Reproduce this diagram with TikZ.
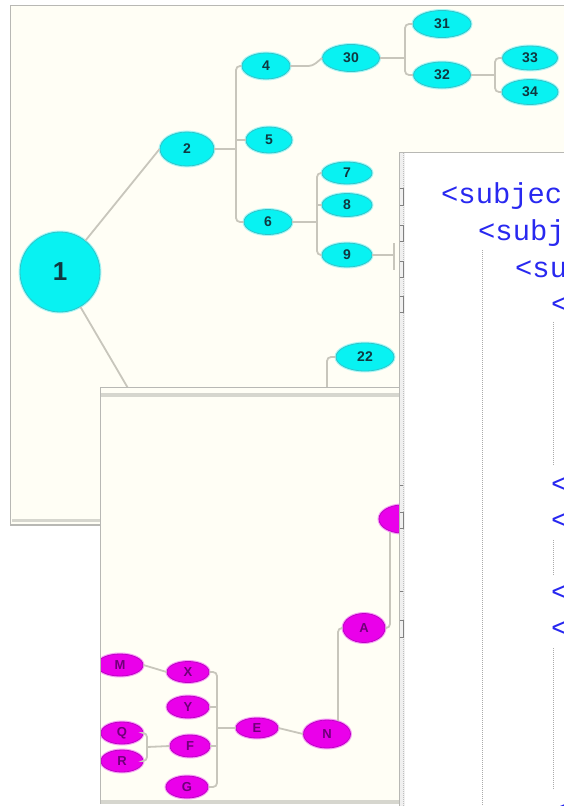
\documentclass[tikz,border=0pt]{standalone}
\usepackage{fontspec}
\setmainfont{Liberation Sans}
\newfontfamily\codefont{Liberation Mono}
\usetikzlibrary{shapes.geometric}

\definecolor{paper}{RGB}{255,254,245}
\definecolor{wingray}{RGB}{184,184,180}
\definecolor{bandgray}{RGB}{214,214,206}
\definecolor{edgegray}{RGB}{200,198,188}
\definecolor{cyanfill}{RGB}{8,242,242}
\definecolor{cyanedge}{RGB}{48,196,200}
\definecolor{cyanhalo}{RGB}{170,246,246}
\definecolor{cyantext}{RGB}{16,56,64}
\definecolor{magfill}{RGB}{234,0,234}
\definecolor{magedge}{RGB}{190,0,196}
\definecolor{maghalo}{RGB}{246,160,246}
\definecolor{magtext}{RGB}{110,0,120}
\definecolor{xmlblue}{RGB}{40,40,240}
\definecolor{guidegray}{RGB}{170,170,170}

\tikzset{
  edge/.style={draw=edgegray, line width=1.8pt, rounded corners=4pt},
  cnode/.style={ellipse, fill=cyanfill, draw=cyanedge, line width=0.8pt, inner sep=0pt,
    text=cyantext, font=\fontsize{14}{14}\selectfont\bfseries,
    preaction={draw=cyanhalo, line width=3pt}},
  mnode/.style={ellipse, fill=magfill, draw=magedge, line width=0.8pt, inner sep=0pt,
    text=magtext, font=\fontsize{13}{13}\selectfont\bfseries,
    preaction={draw=maghalo, line width=3pt}},
  win/.style={fill=paper, draw=wingray, line width=1.2pt},
  guide/.style={draw=guidegray, line width=0.8pt, dash pattern=on 1pt off 1pt},
  xmltext/.style={anchor=base west, inner sep=0pt, text=xmlblue,
    font=\codefont\fontsize{28.8}{28.8}\selectfont},
  bracket/.style={draw=gray, line width=0.9pt},
}

\begin{document}
\begin{tikzpicture}[x=1pt,y=-1pt]
\useasboundingbox (0,0) rectangle (564,806);
\fill[white] (0,0) rectangle (564,806);
\clip (0,0) rectangle (564,806);

% ---------- first window: cyan tree ----------
\path[win] (10.5,5.5) rectangle (620,525);
\draw[bandgray, line width=3pt] (12,520) -- (620,520);

\node[cnode, circle, minimum size=80pt, font=\fontsize{26}{26}\selectfont\bfseries] (n1) at (60,272) {1};
\node[cnode, minimum width=54pt, minimum height=34pt] (n2) at (187,149) {2};
\node[cnode, minimum width=48pt, minimum height=26pt] (n4) at (266,66) {4};
\node[cnode, minimum width=46pt, minimum height=26pt] (n5) at (269,140) {5};
\node[cnode, minimum width=48pt, minimum height=25pt] (n6) at (268,222) {6};
\node[cnode, minimum width=57pt, minimum height=27pt] (n30) at (351,58) {30};
\node[cnode, minimum width=58pt, minimum height=27pt] (n31) at (442,24) {31};
\node[cnode, minimum width=57pt, minimum height=26pt] (n32) at (442,75) {32};
\node[cnode, minimum width=55pt, minimum height=24pt] (n33) at (530,58) {33};
\node[cnode, minimum width=56pt, minimum height=25pt] (n34) at (530,92) {34};
\node[cnode, minimum width=50pt, minimum height=22pt] (n7) at (347,173) {7};
\node[cnode, minimum width=50pt, minimum height=23pt] (n8) at (347,205) {8};
\node[cnode, minimum width=50pt, minimum height=24pt] (n9) at (347,255) {9};
\node[cnode, minimum width=58pt, minimum height=28pt] (n22) at (365,357) {22};

\coordinate (j2) at (236,149);
\coordinate (j30) at (405,58);
\coordinate (j32) at (495,75);
\coordinate (j6) at (317,222);
\coordinate (j9) at (394,255);
\coordinate (j9top) at (394,243);
\coordinate (j9bot) at (394,270);
\coordinate (c1low) at (132,395);
\coordinate (c22low) at (327,395);

\draw[edge] (n1) -- (n2.west);
\draw[edge] (n1) -- (c1low);
\draw[edge] (n2.east) -- (j2);
\draw[edge] (n4.west) -| (j2) |- (n6.west);
\draw[edge] (n5.west) -- (n5.west -| j2);
\draw[edge] (n4.east) -- ++(22,0) -- (n30.west);
\draw[edge] (n30.east) -- (j30);
\draw[edge] (n31.west) -| (j30) |- (n32.west);
\draw[edge] (n32.east) -- (j32);
\draw[edge] (n33.west) -| (j32) |- (n34.west);
\draw[edge] (n6.east) -- (j6);
\draw[edge] (n7.west) -| (j6) |- (n9.west);
\draw[edge] (n8.west) -- (n8.west -| j6);
\draw[edge] (n9.east) -- (j9);
\draw[edge] (j9top) -- (j9bot);
\draw[edge] (n22.west) -| (c22low);

% ---------- second window: magenta tree ----------
\path[win] (100.5,387.5) rectangle (430,803);
\draw[bandgray, line width=3.5pt] (101,395) -- (430,395);
\draw[bandgray, line width=4pt] (101,802) -- (430,802);

\begin{scope}
\clip (101,397) rectangle (430,800);
\node[mnode, minimum width=46pt, minimum height=22pt] (mM) at (120,665) {M};
\node[mnode, minimum width=42pt, minimum height=21pt] (mX) at (188,672) {X};
\node[mnode, minimum width=42pt, minimum height=22pt] (mY) at (188,707) {Y};
\node[mnode, minimum width=40pt, minimum height=22pt] (mF) at (190,746) {F};
\node[mnode, minimum width=42pt, minimum height=22pt] (mG) at (187,787) {G};
\node[mnode, minimum width=42pt, minimum height=22pt] (mQ) at (122,733) {Q};
\node[mnode, minimum width=42pt, minimum height=22pt] (mR) at (122,761) {R};
\node[mnode, minimum width=42pt, minimum height=20pt] (mE) at (257,728) {E};
\node[mnode, minimum width=47pt, minimum height=28pt] (mN) at (327,734) {N};
\node[mnode, minimum width=42pt, minimum height=29pt] (mA) at (364,628) {A};
\node[mnode, minimum width=46pt, minimum height=28pt] (mT) at (402,519) {};

\coordinate (jX) at (217,728);
\coordinate (jF) at (147,747);
\coordinate (jN) at (338,721);
\coordinate (jA) at (390,532);

\draw[edge] (mM.east) -- (mX.west);
\draw[edge] (mE.west) -- (jX);
\draw[edge] (mX.east) -| (jX) |- (mG.east);
\draw[edge] (mY.east) -- (mY.east -| jX);
\draw[edge] (mF.east) -- (mF.east -| jX);
\draw[edge] (mF.west) -- (jF);
\draw[edge] (mQ.east) -| (jF) |- (mR.east);
\draw[edge] (mE.east) -- (mN.west);
\draw[edge] (mA.west) -| (jN);
\draw[edge] (mA.east) -| (jA);
\end{scope}

% ---------- third window: XML source ----------
\path[fill=white, draw=wingray, line width=1.2pt] (399.5,152.5) rectangle (620,830);
\fill[black!6] (400.2,153.2) rectangle (405,830);
\draw[guide, draw=black!25] (403,153) -- (403,830);

% fold markers in the gutter
\foreach \a/\b in {188/205, 225/241, 261/277, 296/312, 512/528, 620/637}{
  \draw[bracket] (400,\a) -- (403,\a) -- (403,\b) -- (400,\b);
}
\foreach \a in {485, 591}{
  \draw[bracket] (400,\a) -- (403,\a);
}

% indentation guides
\draw[guide] (482,250) -- (482,806);
\draw[guide] (553,322) -- (553,465);
\draw[guide] (553,540) -- (553,575);
\draw[guide] (553,648) -- (553,790);

% source lines, cut by the window's right edge
\node[xmltext] (t1) at (441,203) {<subjec};
\node[xmltext] (t2) at (478,240) {<subj};
\node[xmltext] (t3) at (515,277) {<su};
\node[xmltext] (t4) at (551,313) {<};
\node[xmltext] (t5) at (551,493) {<};
\node[xmltext] (t6) at (551,529) {<};
\node[xmltext] (t7) at (551,601) {<};
\node[xmltext] (t8) at (551,637) {<};
\node[xmltext] (t9) at (551,820) {<};
\end{tikzpicture}
\end{document}
